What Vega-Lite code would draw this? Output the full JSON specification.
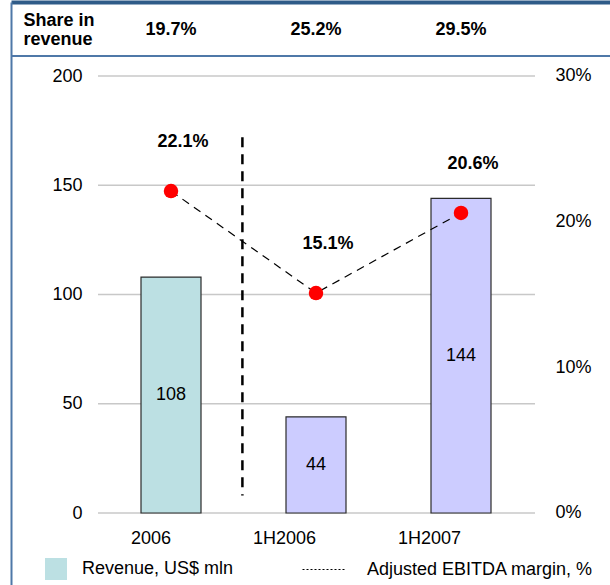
{
  "$schema": "https://vega.github.io/schema/vega-lite/v6.json",
  "width": 599,
  "height": 583,
  "autosize": {"type": "none"},
  "padding": {"left": 11, "top": 2, "right": 0, "bottom": 0},
  "background": "#ffffff",
  "config": {
    "font": "Liberation Sans",
    "view": {"stroke": null},
    "axis": {"labelFont": "Liberation Sans", "labelFontSize": 18, "labelColor": "#000000", "ticks": false, "tickSize": 0, "grid": false, "titleFont": "Liberation Sans"},
    "legend": {"labelFont": "Liberation Sans", "labelFontSize": 18, "labelColor": "#000000", "labelLimit": 400, "padding": 0, "orient": "none"},
    "text": {"font": "Liberation Sans", "color": "#000000"}
  },
  "datasets": {
    "periods": [
      {"period": "2006", "revenue": 108, "margin": 0.221, "share": 0.197, "revenue_label": "Revenue, US$ mln", "margin_label": "Adjusted EBITDA margin, %"},
      {"period": "1H2006", "revenue": 44, "margin": 0.151, "share": 0.252, "revenue_label": "Revenue, US$ mln", "margin_label": "Adjusted EBITDA margin, %"},
      {"period": "1H2007", "revenue": 144, "margin": 0.206, "share": 0.295, "revenue_label": "Revenue, US$ mln", "margin_label": "Adjusted EBITDA margin, %"}
    ],
    "revenueTicks": [{"tick": 0}, {"tick": 50}, {"tick": 100}, {"tick": 150}, {"tick": 200}]
  },
  "data": {"name": "periods"},
  "layer": [
    {
      "layer": [
        {
          "data": {"name": "revenueTicks"},
          "mark": {"type": "rule", "color": "#c8c8c8", "strokeWidth": 1.3},
          "encoding": {
            "y": {"field": "tick", "type": "quantitative"},
            "x": {"datum": "2006", "type": "nominal", "bandPosition": -0.7167},
            "x2": {"datum": "1H2007", "bandPosition": 1.7333}
          }
        },
        {
          "data": {"values": [{}]},
          "mark": {"type": "rule", "color": "#4f78a8", "strokeWidth": 2},
          "encoding": {"y": {"datum": 209.15, "type": "quantitative"}}
        },
        {
          "mark": {"type": "bar", "stroke": "#2b2b2b", "strokeWidth": 1.2},
          "encoding": {
            "x": {
              "field": "period", "type": "nominal", "sort": null,
              "scale": {"domain": ["2006", "1H2006", "1H2007"], "paddingInner": 0.5862, "paddingOuter": 0.8586, "align": 0.5221},
              "axis": {"orient": "bottom", "title": null, "domain": false, "labelAngle": 0, "labelBaseline": "middle", "labelPadding": -47}
            },
            "y": {
              "field": "revenue", "type": "quantitative",
              "scale": {"domain": [-32.95, 233.87], "nice": false, "zero": false},
              "axis": {
                "orient": "left", "values": [0, 50, 100, 150, 200], "labelPadding": -71,
                "domain": true, "domainColor": "#4f78a8", "domainWidth": 2,
                "title": ["Share in", "revenue"], "titleAngle": 0, "titleX": 12, "titleY": 23,
                "titleAlign": "left", "titleBaseline": "alphabetic", "titleFontSize": 18,
                "titleFontWeight": "bold", "titleLineHeight": 19, "titleColor": "#000000"
              }
            },
            "color": {
              "field": "revenue_label", "type": "nominal",
              "scale": {"domain": ["Revenue, US$ mln"], "range": ["#bce0e3"]},
              "condition": {"test": "datum.period !== '2006'", "value": "#ccccff"},
              "legend": {
                "title": null, "legendX": 34, "legendY": 556, "symbolType": "square",
                "symbolSize": 484, "symbolStrokeWidth": 0, "labelOffset": 15
              }
            }
          }
        },
        {
          "mark": {"type": "text", "fontSize": 18, "baseline": "middle"},
          "encoding": {
            "x": {"field": "period", "type": "nominal"},
            "y": {"field": "revenue", "type": "quantitative", "stack": "zero", "bandPosition": 0.5},
            "text": {"field": "revenue", "type": "quantitative"}
          }
        },
        {
          "data": {"values": [{}]},
          "mark": {"type": "rule", "color": "#000000", "strokeWidth": 2.5, "strokeDash": [10, 7]},
          "encoding": {
            "x": {"datum": "2006", "type": "nominal", "bandPosition": 1.69},
            "y": {"datum": 172, "type": "quantitative"},
            "y2": {"datum": 8}
          }
        },
        {
          "mark": {"type": "text", "fontSize": 18, "fontWeight": "bold", "baseline": "middle"},
          "encoding": {
            "x": {"field": "period", "type": "nominal"},
            "y": {"datum": 221, "type": "quantitative"},
            "text": {"field": "share", "type": "quantitative", "format": ".1%"}
          }
        }
      ]
    },
    {
      "layer": [
        {
          "mark": {"type": "line", "strokeWidth": 1.2, "strokeDash": [8, 6]},
          "encoding": {
            "x": {
              "field": "period", "type": "nominal", "sort": null,
              "axis": {"orient": "top", "labels": false, "title": null, "domain": true, "domainColor": "#2f5b88", "domainWidth": 4}
            },
            "y": {
              "field": "margin", "type": "quantitative",
              "scale": {"domain": [-0.04943, 0.3508], "nice": false, "zero": false},
              "axis": {"orient": "right", "values": [0, 0.1, 0.2, 0.3], "format": ".0%", "labelPadding": -55, "labelAlign": "left", "domain": false, "title": null}
            },
            "stroke": {
              "field": "margin_label", "type": "nominal",
              "scale": {"domain": ["Adjusted EBITDA margin, %"], "range": ["#000000"]},
              "legend": {
                "title": null, "legendX": 291, "legendY": 545.5, "symbolType": "stroke",
                "symbolSize": 1849, "symbolStrokeWidth": 1, "symbolDash": [2, 2],
                "labelOffset": 21,
                "encode": {"symbols": {"update": {"strokeDash": {"value": [2, 2]}, "stroke": {"value": "#444444"}}}}
              }
            }
          }
        },
        {
          "mark": {"type": "circle", "size": 210, "color": "#ff0000", "opacity": 1},
          "encoding": {
            "x": {"field": "period", "type": "nominal"},
            "y": {"field": "margin", "type": "quantitative"}
          }
        },
        {
          "mark": {"type": "text", "fontSize": 18, "fontWeight": "bold", "baseline": "middle", "dy": -49, "dx": 12},
          "encoding": {
            "x": {"field": "period", "type": "nominal"},
            "y": {"field": "margin", "type": "quantitative"},
            "text": {"field": "margin", "type": "quantitative", "format": ".1%"}
          }
        }
      ]
    }
  ],
  "resolve": {"scale": {"y": "independent"}, "axis": {"x": "independent", "y": "independent"}}
}
